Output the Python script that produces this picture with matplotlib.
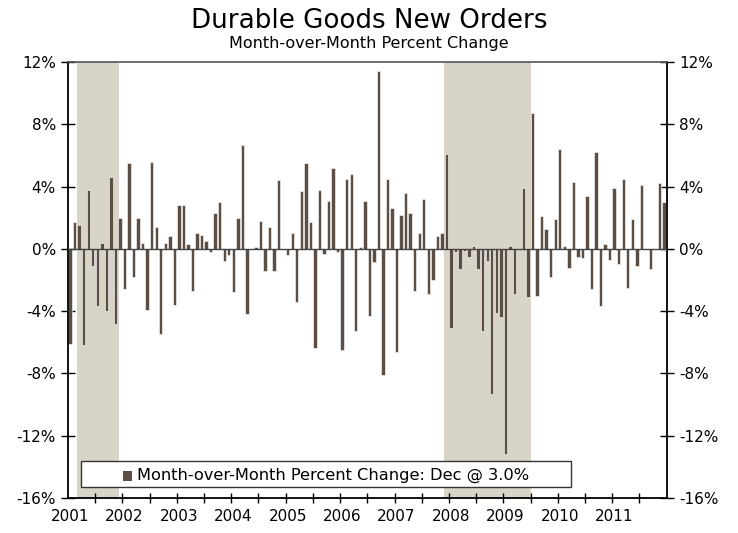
import numpy as np
import matplotlib
matplotlib.use("Agg")
import matplotlib.pyplot as plt
from matplotlib.patches import Rectangle

# monthly percent change, Jan 2001 - Dec 2011
years = list(range(2001, 2012))
pct_2001 = [-6.1, 1.7, 1.5, -6.2, 3.8, -1.1, -3.7, 0.4, -4.0, 4.6, -4.8, 2.0]
pct_2002 = [-2.6, 5.5, -1.8, 2.0, 0.4, -3.9, 5.6, 1.4, -5.5, 0.4, 0.8, -3.6]
pct_2003 = [2.8, 2.8, 0.3, -2.7, 1.0, 0.9, 0.5, -0.2, 2.3, 3.0, -0.8, -0.4]
pct_2004 = [-2.8, 2.0, 6.7, -4.2, 0.0, 0.1, 1.8, -1.4, 1.4, -1.4, 4.4, 0.0]
pct_2005 = [-0.4, 1.0, -3.4, 3.7, 5.5, 1.7, -6.4, 3.8, -0.3, 3.1, 5.2, -0.2]
pct_2006 = [-6.5, 4.5, 4.8, -5.3, 0.15, 3.1, -4.3, -0.85, 11.4, -8.1, 4.5, 2.6]
pct_2007 = [-6.6, 2.2, 3.6, 2.3, -2.7, 1.0, 3.2, -2.9, -2.0, 0.85, 1.0, 6.1]
pct_2008 = [-5.1, -0.2, -1.3, -0.15, -0.5, 0.2, -1.3, -5.3, -0.8, -9.3, -4.1, -4.4]
pct_2009 = [-13.2, 0.2, -2.9, 0.0, 3.9, -3.1, 8.7, -3.0, 2.1, 1.3, -1.8, 1.9]
pct_2010 = [6.4, 0.2, -1.2, 4.3, -0.5, -0.6, 3.4, -2.6, 6.2, -3.65, 0.3, -0.7]
pct_2011 = [3.9, -1.0, 4.5, -2.5, 1.9, -1.1, 4.1, 0.0, -1.3, 0.0, 4.2, 3.0]

values = (pct_2001 + pct_2002 + pct_2003 + pct_2004 + pct_2005 + pct_2006
          + pct_2007 + pct_2008 + pct_2009 + pct_2010 + pct_2011)

# recessions as (first month index, last month index)
recessions = [(2, 10), (83, 101)]

yticks = [-16, -12, -8, -4, 0, 4, 8, 12]

bar_color = "#5B4F45"
shade_color = "#D8D4C8"

x = np.arange(len(values))

fig = plt.figure(figsize=(7.38, 5.33), dpi=100)
ax = fig.add_axes([0.0925, 0.0657, 0.811, 0.818])

for s, e in recessions:
    ax.axvspan(s - 0.5, e + 0.7, color=shade_color, lw=0, zorder=0)

ax.bar(x, values, width=0.75, color=bar_color, edgecolor="white",
       linewidth=0.4, zorder=2)
ax.axhline(0, color="#444444", lw=1.0, zorder=3)

ax.set_xlim(-0.4, 131.6)
ax.set_ylim(-16, 12)

ax.set_yticks(yticks)
ax.set_yticklabels([f"{v}%" for v in yticks])
ax.tick_params(axis="y", which="both", direction="inout", length=10, width=1,
               labelsize=11, left=True, right=True, labelleft=True,
               labelright=True, pad=4, colors="black")

# half-year tick marks, year labels at January
ax.set_xticks(np.arange(6, len(values), 6) - 0.45)
ax.set_xticklabels([])
ax.tick_params(axis="x", which="major", direction="inout", length=7, width=1)
ax.set_xticks([12 * k for k in range(len(years))], [str(y) for y in years],
              minor=True)
ax.tick_params(axis="x", which="minor", length=0, labelsize=11, pad=8)

for side in ["left", "right", "bottom"]:
    ax.spines[side].set_color("black")
    ax.spines[side].set_linewidth(1.3)
ax.spines["top"].set_color("#555555")
ax.spines["top"].set_linewidth(1.2)

# legend box
ax.add_patch(Rectangle((0.0212, 0.0245), 0.819, 0.061, transform=ax.transAxes,
                       facecolor="white", edgecolor="#333333", lw=1.0, zorder=5))
ax.add_patch(Rectangle((0.0919, 0.040), 0.014, 0.021, transform=ax.transAxes,
                       facecolor=bar_color, edgecolor="none", zorder=6))
ax.text(0.1148, 0.0515, f"Month-over-Month Percent Change: Dec @ {values[-1]:.1f}%",
        transform=ax.transAxes, fontsize=11.7, va="center", ha="left", zorder=6)

fig.text(0.5, 0.947, "Durable Goods New Orders", fontsize=18.8, ha="center",
         va="baseline")
fig.text(0.5, 0.91, "Month-over-Month Percent Change", fontsize=11.5,
         ha="center", va="baseline")

fig.savefig("out.png", dpi=100)
